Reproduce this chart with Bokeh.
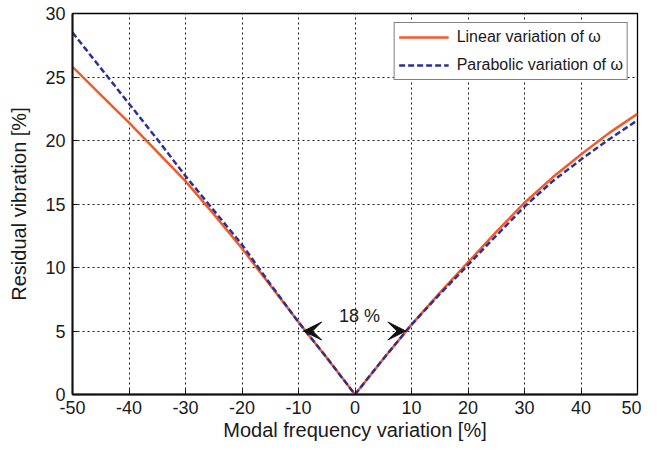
from bokeh.plotting import figure
from bokeh.models import Range1d, FixedTicker, Arrow, VeeHead, Label, Legend, LegendItem
from bokeh.embed import file_html
from bokeh.resources import INLINE

# Data
x_vals = [-50, -45, -40, -35, -30, -25, -20, -15, -10, -5, 0, 5, 10, 15, 20, 25, 30, 35, 40, 45, 50]
linear_omega = [25.8, 23.6, 21.4, 19.1, 16.8, 14.2, 11.5, 8.6, 5.7, 2.9, 0.0,
                2.8, 5.5, 8.0, 10.4, 12.8, 15.1, 17.1, 18.9, 20.6, 22.1]
parabolic_omega = [28.5, 25.7, 22.9, 20.1, 17.2, 14.5, 11.8, 8.7, 5.7, 2.9, 0.0,
                   2.8, 5.5, 7.9, 10.2, 12.5, 14.8, 16.8, 18.5, 20.1, 21.6]
x_ticks = [-50, -40, -30, -20, -10, 0, 10, 20, 30, 40, 50]
y_ticks = [0, 5, 10, 15, 20, 25, 30]
arrow_left = (-6.0, -9.1, 5.0)
arrow_right = (6.2, 9.0, 5.0)
annot_text = "18 %"
annot_pos = (0.8, 6.15)

FONT = "Liberation Sans"
TXT = "#1a1a1a"

p = figure(width=641, height=448, output_backend="svg", toolbar_location=None,
           x_range=Range1d(-50, 50), y_range=Range1d(0, 30),
           min_border_left=72, min_border_right=4, min_border_top=13, min_border_bottom=54)
p.background_fill_color = "white"
p.border_fill_color = "white"
p.outline_line_color = "black"
p.outline_line_width = 1.3

for ax, ticks in ((p.xaxis[0], x_ticks), (p.yaxis[0], y_ticks)):
    ax.ticker = FixedTicker(ticks=ticks)
    ax.major_label_overrides = {t: str(t) for t in ticks}
    ax.major_label_text_font = FONT
    ax.major_label_text_font_size = "18px"
    ax.major_label_text_color = TXT
    ax.axis_label_text_font = FONT
    ax.axis_label_text_font_size = "20px"
    ax.axis_label_text_font_style = "normal"
    ax.axis_label_text_color = TXT
    ax.axis_line_color = "#111111"
    ax.axis_line_width = 2
    ax.major_tick_in = 5
    ax.major_tick_out = 0
    ax.minor_tick_in = 0
    ax.minor_tick_out = 0
    ax.major_tick_line_color = "#111111"

p.xaxis.axis_label = "Modal frequency variation [%]"
p.yaxis.axis_label = "Residual vibration [%]"
p.xaxis.major_label_standoff = 6
p.yaxis.major_label_standoff = 7
p.xaxis.axis_label_standoff = 2
p.yaxis.axis_label_standoff = 12

for g in (p.xgrid[0], p.ygrid[0]):
    g.grid_line_color = "black"
    g.grid_line_dash = "2 3"
    g.grid_line_width = 1
    g.grid_line_alpha = 0.9
p.xgrid.ticker = FixedTicker(ticks=x_ticks)
p.ygrid.ticker = FixedTicker(ticks=y_ticks)

r1 = p.line(x_vals, linear_omega, line_color="#F15A29", line_width=2.5)
r2 = p.line(x_vals, parabolic_omega, line_color="#2E3192", line_width=2.5, line_dash="6 3")

legend = Legend(items=[LegendItem(label="Linear variation of \u03c9", renderers=[r1]),
                       LegendItem(label="Parabolic variation of \u03c9", renderers=[r2])],
                location="top_right", margin=9, padding=4, spacing=8,
                label_text_font=FONT, label_text_font_size="16px", label_text_color=TXT,
                border_line_color="black", border_line_width=1.3,
                glyph_width=50, glyph_height=20, label_standoff=8,
                background_fill_alpha=1.0)
p.add_layout(legend)

for (xs, xe, yy) in (arrow_left, arrow_right):
    p.add_layout(Arrow(end=VeeHead(size=18, fill_color="#111111", line_color="#111111"),
                       x_start=xs, y_start=yy, x_end=xe, y_end=yy,
                       line_color="#111111", line_width=1, line_alpha=0.0))

p.add_layout(Label(x=annot_pos[0], y=annot_pos[1], text=annot_text, text_align="center",
                   text_baseline="alphabetic", text_font=FONT, text_font_size="18px",
                   text_color=TXT))

open("out.html", "w").write(file_html(p, INLINE))
